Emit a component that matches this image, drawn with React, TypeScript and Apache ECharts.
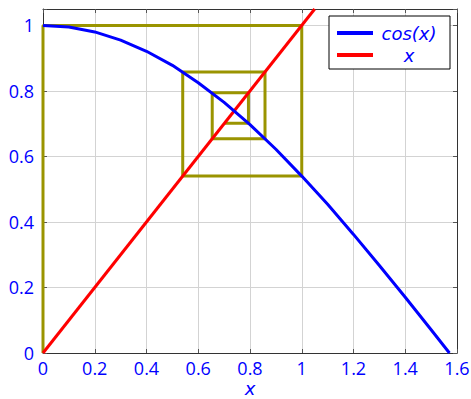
import React, { useEffect, useRef } from "react";
import * as echarts from "echarts";

const cosX = [0, 0.1, 0.2, 0.3, 0.4, 0.5, 0.6, 0.7, 0.8, 0.9, 1.0, 1.1, 1.2, 1.3, 1.4, 1.5, 1.5708];
const cosY = [1, 0.995, 0.98, 0.955, 0.921, 0.878, 0.825, 0.765, 0.697, 0.622, 0.54, 0.454, 0.362, 0.267, 0.17, 0.071, 0];
const idX = [0, 1.05];
const idY = [0, 1.05];
const webX = [0, 0, 1, 1, 0.54, 0.54, 0.858, 0.858, 0.654, 0.654, 0.794, 0.794, 0.701];
const webY = [0, 1, 1, 0.54, 0.54, 0.858, 0.858, 0.654, 0.654, 0.794, 0.794, 0.701, 0.701];
const seriesNames = ["cos(x)", "x"];

const BLUE = "#0000ff";
const RED = "#ff0000";
const OLIVE = "#9a9400";
const FONT = "Open Sans";
const MATH = "DejaVu Sans";

export default function App() {
  const ref = useRef<HTMLDivElement>(null);
  useEffect(() => {
    if (!ref.current) return;
    const chart = echarts.init(ref.current, undefined, { renderer: "svg" });
    const zip = (a: number[], b: number[]) => a.map((v, i) => [v, b[i]]);
    const axisCommon = {
      axisLine: { show: true, onZero: false, lineStyle: { color: "#333", width: 1 } },
      axisTick: { show: true, inside: true, length: 4, lineStyle: { color: "#555" } },
    };
    chart.setOption({
      animation: false,
      grid: { left: 43, right: 14, top: 9, bottom: 46, show: false, containLabel: false, outerBoundsMode: "none" },
      xAxis: [
        {
          type: "value", min: 0, max: 1.6, interval: 0.2,
          ...axisCommon,
          axisLabel: { color: BLUE, fontSize: 18, fontFamily: FONT, margin: 6 },
          splitLine: { show: true, lineStyle: { color: "#d3d3d3", width: 1 } },
          name: "x", nameLocation: "middle", nameGap: 27, nameMoveOverlap: false,
          nameTextStyle: { color: BLUE, fontSize: 18, lineHeight: 17, fontStyle: "italic", fontFamily: MATH },
        },
        {
          type: "value", min: 0, max: 1.6, interval: 0.2, position: "top",
          ...axisCommon, axisLabel: { show: false }, splitLine: { show: false },
        },
      ],
      yAxis: [
        {
          type: "value", min: 0, max: 1.05, interval: 0.2,
          ...axisCommon,
          axisLabel: {
            color: BLUE, fontSize: 18, fontFamily: FONT, margin: 9,
            formatter: (v: number) => (v > 1.01 ? "" : String(Math.round(v * 10) / 10)),
          },
          splitLine: { show: true, lineStyle: { color: "#d3d3d3", width: 1 } },
        },
        {
          type: "value", min: 0, max: 1.05, interval: 0.2, position: "right",
          ...axisCommon, axisLabel: { show: false }, splitLine: { show: false },
        },
      ],
      legend: {
        data: seriesNames,
        orient: "vertical",
        left: 329, top: 16,
        padding: [8, 10, 5, 8],
        itemGap: 4,
        itemWidth: 36, itemHeight: 4,
        icon: "rect",
        backgroundColor: "#fff",
        borderColor: "#000",
        borderWidth: 1,
        borderRadius: 0,
        formatter: (n: string) => `{c|${n}}`,
        textStyle: {
          color: BLUE, fontSize: 18, fontStyle: "italic", fontFamily: MATH,
          rich: { c: { width: 62, align: "center", lineHeight: 20, color: BLUE, fontSize: 18, fontStyle: "italic", fontFamily: MATH } },
        },
      },
      series: [
        {
          name: "web", type: "line", data: zip(webX, webY), showSymbol: false,
          lineStyle: { color: OLIVE, width: 3 }, itemStyle: { color: OLIVE }, z: 1,
        },
        {
          name: seriesNames[0], type: "line", data: zip(cosX, cosY), showSymbol: false,
          lineStyle: { color: BLUE, width: 3 }, itemStyle: { color: BLUE }, z: 3,
        },
        {
          name: seriesNames[1], type: "line", data: zip(idX, idY), showSymbol: false,
          lineStyle: { color: RED, width: 3 }, itemStyle: { color: RED }, z: 2,
        },
      ],
    });
    return () => chart.dispose();
  }, []);
  return <div ref={ref} style={{ width: 471, height: 399, position: "absolute", left: 0, top: 0 }} />;
}
